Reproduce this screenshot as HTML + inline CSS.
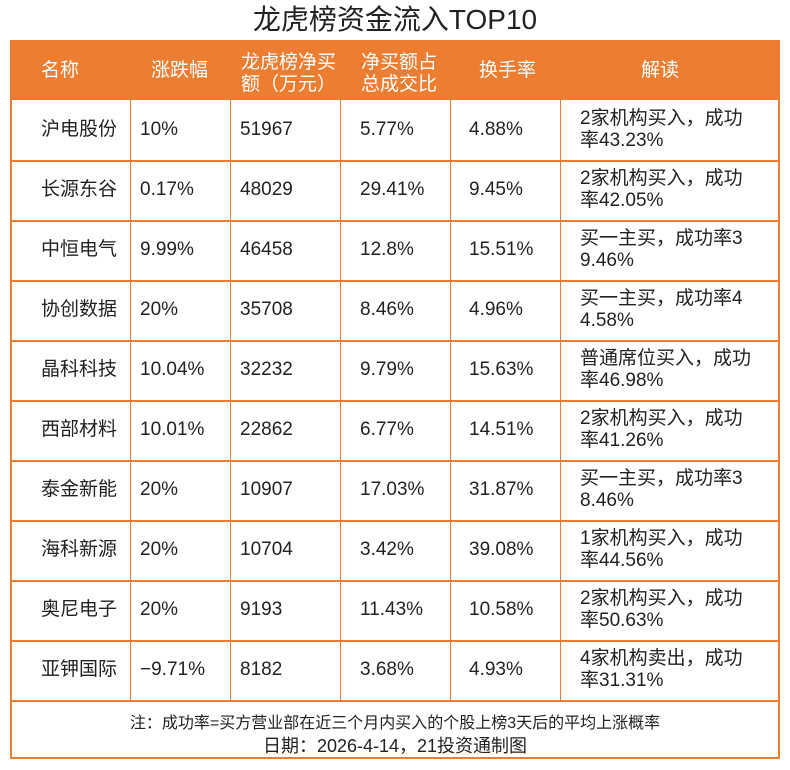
<!DOCTYPE html>
<html><head><meta charset="utf-8"><style>
body{margin:0;width:790px;height:770px;background:#fff;font-family:"Liberation Sans","Noto Sans CJK SC",sans-serif;color:#222;position:relative;overflow:hidden}
.t{position:absolute;left:0;width:790px;top:3px;text-align:center;font-size:28px;line-height:34px}
.box{position:absolute;left:10px;top:40px;width:770px;height:719px;border:2px solid #ed7d31;box-sizing:border-box;border-width:0 2px 2px 2px}
.hd{position:absolute;left:10px;top:40px;width:770px;height:60px;background:#ed7d31}
.v{position:absolute;top:100px;width:1px;height:600px;background:#ed7d31}
.h{position:absolute;left:10px;width:770px;height:1.5px;background:#ed7d31}
.c{position:absolute;font-size:19px;line-height:22px;white-space:nowrap}
.w{color:#fff}
.f{position:absolute;left:10px;width:770px;text-align:center;font-size:16px}
</style></head><body>
<div class="t">龙虎榜资金流入TOP10</div>
<div class="hd"></div>
<div class="box"></div>
<div class="v" style="left:130px"></div><div class="v" style="left:230px"></div><div class="v" style="left:340px"></div><div class="v" style="left:450px"></div><div class="v" style="left:560px"></div>
<div class="h" style="top:160px"></div><div class="h" style="top:220px"></div><div class="h" style="top:280px"></div><div class="h" style="top:340px"></div><div class="h" style="top:400px"></div><div class="h" style="top:460px"></div><div class="h" style="top:520px"></div><div class="h" style="top:580px"></div><div class="h" style="top:640px"></div><div class="h" style="top:700px"></div>
<div class="c w" style="left:41px;top:60px">名称</div>
<div class="c w" style="left:151px;top:60px">涨跌幅</div>
<div class="c w" style="left:241px;top:52px">龙虎榜净买<br>额（万元）</div>
<div class="c w" style="left:361px;top:52px">净买额占<br>总成交比</div>
<div class="c w" style="left:479px;top:60px">换手率</div>
<div class="c w" style="left:641px;top:60px">解读</div>
<div id="rows"></div>
<script>
var d=[["沪电股份","10%","51967","5.77%","4.88%","2家机构买入，成功","率43.23%"],
["长源东谷","0.17%","48029","29.41%","9.45%","2家机构买入，成功","率42.05%"],
["中恒电气","9.99%","46458","12.8%","15.51%","买一主买，成功率3","9.46%"],
["协创数据","20%","35708","8.46%","4.96%","买一主买，成功率4","4.58%"],
["晶科科技","10.04%","32232","9.79%","15.63%","普通席位买入，成功","率46.98%"],
["西部材料","10.01%","22862","6.77%","14.51%","2家机构买入，成功","率41.26%"],
["泰金新能","20%","10907","17.03%","31.87%","买一主买，成功率3","8.46%"],
["海科新源","20%","10704","3.42%","39.08%","1家机构买入，成功","率44.56%"],
["奥尼电子","20%","9193","11.43%","10.58%","2家机构买入，成功","率50.63%"],
["亚钾国际","−9.71%","8182","3.68%","4.93%","4家机构卖出，成功","率31.31%"]];
var h="";d.forEach(function(r,i){var y=100+i*60;
h+='<div class="c" style="left:41px;top:'+(y+19)+'px">'+r[0]+'</div>';
h+='<div class="c" style="left:140px;top:'+(y+19)+'px">'+r[1]+'</div>';
h+='<div class="c" style="left:240px;top:'+(y+19)+'px">'+r[2]+'</div>';
h+='<div class="c" style="left:360px;top:'+(y+19)+'px">'+r[3]+'</div>';
h+='<div class="c" style="left:469px;top:'+(y+19)+'px">'+r[4]+'</div>';
h+='<div class="c" style="left:580px;top:'+(y+8)+'px">'+r[5]+'<br>'+r[6]+'</div>';});
document.getElementById("rows").innerHTML=h;
</script>
<div class="f" style="top:709px">注：成功率=买方营业部在近三个月内买入的个股上榜3天后的平均上涨概率</div>
<div class="f" style="top:732px;font-size:18px">日期：2026-4-14，21投资通制图</div>
</body></html>
